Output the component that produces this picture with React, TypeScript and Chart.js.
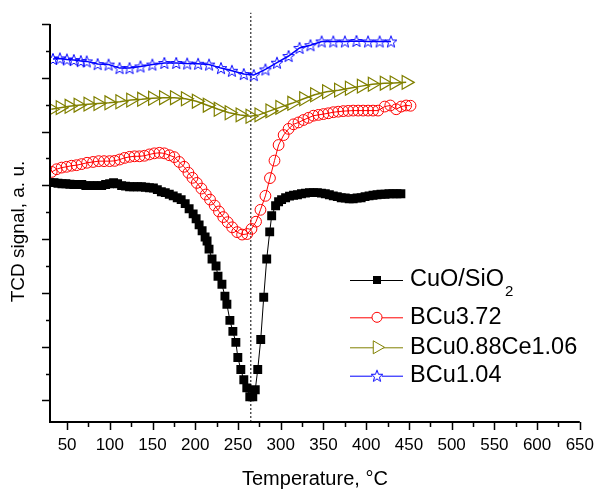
import React, { useEffect, useRef } from 'react';
import { Chart, registerables } from 'chart.js';

Chart.register(...registerables);

const FONT = '"Liberation Sans", Arial, Helvetica, sans-serif';

// ---- Data (temperature in °C, TCD signal in arbitrary units) ----
const seriesLabels = ['CuO/SiO₂', 'BCu3.72', 'BCu0.88Ce1.06', 'BCu1.04'];
const xTitle = 'Temperature, °C';
const yTitle = 'TCD signal, a. u.';

const xTickValues = [50, 75, 100, 125, 150, 175, 200, 225, 250, 275, 300, 325, 350, 375, 400, 425, 450, 475, 500, 525, 550, 575, 600, 625, 650];
const yTickValues = [0, 1, 2, 3, 4, 5, 6, 7, 8, 9, 10, 11, 12, 13, 14];
const peakMarkerT = 265;

const cuoT = [30.0, 34.7, 39.3, 44.0, 48.6, 53.3, 57.9, 62.6, 67.2, 71.9, 76.5, 81.2, 85.8, 90.5, 95.1, 99.8, 104.4, 109.1, 113.8, 118.4, 123.1, 127.7, 132.4, 137.0, 141.7, 146.3, 151.0, 155.6, 160.3, 164.9, 169.6, 174.2, 178.9, 183.5, 188.2, 192.8, 197.5, 201.0, 204.5, 208.0, 211.5, 213.8, 216.1, 219.6, 224.3, 226.6, 231.2, 234.7, 237.0, 240.5, 244.0, 247.5, 249.8, 253.3, 256.8, 260.3, 263.8, 267.3, 270.2, 273.1, 276.6, 280.1, 283.6, 287.1, 289.4, 294.0, 297.5, 301.0, 305.7, 310.3, 315.0, 319.6, 324.3, 328.9, 333.6, 338.2, 342.9, 347.6, 352.2, 356.9, 361.5, 366.2, 370.8, 375.5, 380.1, 384.8, 389.4, 394.1, 398.7, 403.4, 408.0, 412.7, 417.3, 422.0, 426.7, 431.3, 436.0, 440.6];
const cuoV = [8.10, 8.10, 8.08, 8.06, 8.06, 8.04, 8.03, 8.03, 8.03, 7.99, 7.99, 7.99, 7.99, 7.99, 8.03, 8.06, 8.10, 8.06, 7.99, 7.97, 7.95, 7.95, 7.95, 7.95, 7.93, 7.91, 7.90, 7.84, 7.76, 7.73, 7.67, 7.61, 7.54, 7.47, 7.32, 7.13, 6.94, 6.76, 6.53, 6.31, 6.08, 5.93, 5.63, 5.26, 5.00, 4.62, 4.32, 3.88, 3.58, 2.98, 2.57, 2.16, 1.60, 1.15, 0.77, 0.47, 0.14, 0.14, 0.40, 1.15, 2.27, 3.84, 5.26, 6.27, 6.87, 7.24, 7.39, 7.47, 7.54, 7.60, 7.63, 7.65, 7.69, 7.71, 7.73, 7.73, 7.73, 7.71, 7.69, 7.65, 7.61, 7.58, 7.54, 7.53, 7.50, 7.50, 7.53, 7.54, 7.58, 7.61, 7.63, 7.65, 7.67, 7.67, 7.69, 7.69, 7.69, 7.69];

const bcu372T = [32.0, 37.8, 43.6, 49.4, 55.2, 61.1, 66.9, 73.4, 80.4, 87.0, 93.2, 99.8, 105.7, 111.5, 117.2, 123.1, 128.9, 134.7, 140.5, 146.3, 152.1, 158.0, 163.8, 169.6, 175.4, 181.2, 187.0, 192.0, 196.7, 201.8, 207.2, 212.3, 217.3, 222.7, 227.7, 232.7, 237.9, 243.2, 249.0, 254.8, 260.7, 265.8, 271.1, 276.3, 282.1, 287.4, 292.7, 297.5, 303.4, 309.2, 315.0, 320.8, 326.6, 332.4, 338.2, 344.1, 349.9, 355.7, 361.5, 367.3, 373.1, 379.0, 384.8, 390.6, 396.4, 402.2, 408.0, 413.9, 421.7, 428.2, 435.1, 441.0, 446.8, 451.9];
const bcu372V = [8.50, 8.60, 8.66, 8.69, 8.73, 8.75, 8.79, 8.84, 8.87, 8.90, 8.90, 8.90, 8.91, 8.96, 9.02, 9.06, 9.08, 9.08, 9.10, 9.15, 9.19, 9.21, 9.19, 9.12, 9.05, 8.87, 8.69, 8.47, 8.28, 8.09, 7.88, 7.66, 7.47, 7.25, 7.03, 6.82, 6.63, 6.44, 6.26, 6.17, 6.19, 6.38, 6.65, 7.09, 7.61, 8.27, 8.92, 9.50, 9.87, 10.10, 10.27, 10.34, 10.43, 10.51, 10.59, 10.62, 10.65, 10.68, 10.72, 10.74, 10.76, 10.77, 10.78, 10.78, 10.78, 10.78, 10.78, 10.78, 10.93, 10.97, 10.83, 10.93, 10.97, 10.96];

const bcuCeT = [31.5, 42.0, 52.4, 62.9, 74.5, 86.2, 99.0, 111.8, 124.5, 137.3, 150.1, 162.9, 175.7, 188.5, 201.3, 214.1, 226.9, 239.7, 252.5, 264.1, 274.6, 287.4, 299.0, 313.0, 326.9, 339.7, 353.7, 367.7, 380.4, 394.4, 407.2, 421.2, 432.8, 446.8];
const bcuCeV = [10.83, 10.89, 10.94, 10.98, 11.02, 11.04, 11.07, 11.11, 11.17, 11.20, 11.24, 11.26, 11.26, 11.22, 11.13, 10.98, 10.83, 10.70, 10.62, 10.57, 10.62, 10.77, 10.90, 11.05, 11.22, 11.37, 11.48, 11.54, 11.61, 11.69, 11.76, 11.80, 11.81, 11.83];

const bcu104T = [33.5, 41.6, 49.8, 57.9, 66.1, 73.0, 85.8, 98.6, 111.4, 123.1, 135.9, 149.8, 163.8, 177.7, 190.5, 203.3, 216.1, 230.1, 242.9, 256.8, 268.5, 282.1, 295.6, 309.2, 322.0, 334.8, 347.9, 361.5, 375.1, 388.6, 402.2, 415.8, 429.0];
const bcu104V = [12.70, 12.72, 12.68, 12.66, 12.62, 12.61, 12.51, 12.49, 12.36, 12.36, 12.42, 12.49, 12.55, 12.55, 12.53, 12.52, 12.49, 12.36, 12.26, 12.14, 12.10, 12.31, 12.56, 12.81, 13.11, 13.21, 13.35, 13.35, 13.35, 13.37, 13.35, 13.35, 13.35];

const Y_MIN = -0.8;
const Y_MAX = 14;

const COLORS = ['#000000', '#ff0000', '#808000', '#0000ff'];

function makeStar(color: string, R: number, r: number, lw: number): HTMLCanvasElement {
  const size = 14;
  const c = document.createElement('canvas');
  c.width = size;
  c.height = size;
  const g = c.getContext('2d')!;
  g.beginPath();
  for (let i = 0; i < 10; i++) {
    const rad = i % 2 === 0 ? R : r;
    const a = -Math.PI / 2 + (i * Math.PI) / 5;
    const px = size / 2 + rad * Math.cos(a);
    const py = size / 2 + 0.6 + rad * Math.sin(a);
    if (i === 0) g.moveTo(px, py);
    else g.lineTo(px, py);
  }
  g.closePath();
  g.strokeStyle = color;
  g.lineWidth = lw;
  g.stroke();
  return c;
}

function pts(xs: number[], ys: number[]) {
  return xs.map((x, i) => ({ x, y: ys[i] }));
}

export default function App() {
  const ref = useRef<HTMLCanvasElement>(null);

  useEffect(() => {
    document.body.style.margin = '0';
    const star = makeStar(COLORS[3], 6.2, 2.6, 1);

    const axesPlugin = {
      id: 'axesPlugin',
      afterDraw(chart: any) {
        const { ctx, chartArea } = chart;
        const xs = chart.scales.x;
        const ys = chart.scales.y;
        ctx.save();
        ctx.strokeStyle = '#000';
        // axis lines
        ctx.lineWidth = 2;
        ctx.beginPath();
        ctx.moveTo(chartArea.left, chartArea.top);
        ctx.lineTo(chartArea.left, chartArea.bottom);
        ctx.lineTo(chartArea.right, chartArea.bottom);
        ctx.stroke();
        // ticks
        ctx.lineWidth = 1.5;
        ctx.beginPath();
        xs.ticks.forEach((t: any) => {
          const px = Math.round(xs.getPixelForValue(t.value)) + 0.5;
          const len = t.value % 50 === 0 ? 8 : 5;
          ctx.moveTo(px, chartArea.bottom);
          ctx.lineTo(px, chartArea.bottom + len);
        });
        ys.ticks.forEach((t: any) => {
          const py = Math.round(ys.getPixelForValue(t.value)) + 0.5;
          const len = t.value % 2 === 0 ? 8 : 4;
          ctx.moveTo(chartArea.left, py);
          ctx.lineTo(chartArea.left - len, py);
        });
        ctx.stroke();

        // y title
        ctx.fillStyle = '#000';
        ctx.font = `19px ${FONT}`;
        ctx.textAlign = 'center';
        ctx.textBaseline = 'middle';
        ctx.translate(19, 231.5);
        ctx.rotate(-Math.PI / 2);
        ctx.fillText(yTitle, 0, 0);
        ctx.restore();

        // legend
        ctx.save();
        const rows = [280, 317.3, 347.3, 375.7];
        const lx0 = 350, lx1 = 403, mx = 377, tx = 410;
        seriesLabels.forEach((label, i) => {
          const y = rows[i];
          ctx.strokeStyle = COLORS[i];
          ctx.lineWidth = 1;
          ctx.beginPath();
          ctx.moveTo(lx0, y + 0.5);
          ctx.lineTo(lx1, y + 0.5);
          ctx.stroke();
          if (i === 0) {
            ctx.fillStyle = '#000';
            ctx.fillRect(mx - 4, y - 4, 8, 8);
          } else if (i === 1) {
            ctx.fillStyle = '#fff';
            ctx.beginPath();
            ctx.arc(mx, y, 5, 0, Math.PI * 2);
            ctx.fill();
            ctx.stroke();
          } else if (i === 2) {
            const r = 7.5;
            ctx.fillStyle = '#fff';
            ctx.beginPath();
            ctx.moveTo(mx + r, y);
            ctx.lineTo(mx - r / 2, y - r * 0.866);
            ctx.lineTo(mx - r / 2, y + r * 0.866);
            ctx.closePath();
            ctx.fill();
            ctx.stroke();
          } else {
            ctx.fillStyle = '#fff';
            ctx.fillRect(mx - 5, y - 5, 10, 10);
            ctx.drawImage(star, mx - 7, y - 7);
          }
          ctx.fillStyle = '#000';
          ctx.textAlign = 'left';
          ctx.textBaseline = 'middle';
          ctx.font = `23.5px ${FONT}`;
          if (label.includes('₂')) {
            const main = label.replace('₂', '');
            ctx.fillText(main, tx, y);
            const w = ctx.measureText(main).width;
            ctx.font = `15px ${FONT}`;
            ctx.fillText('2', tx + w + 1, y + 12);
          } else {
            ctx.fillText(label, tx, y);
          }
        });
        ctx.restore();
      },
    };

    const chart = new Chart(ref.current!, {
      type: 'line',
      data: {
        datasets: [
          {
            label: seriesLabels[0],
            data: pts(cuoT, cuoV),
            borderColor: COLORS[0],
            backgroundColor: COLORS[0],
            borderWidth: 1,
            pointStyle: 'rect',
            pointRadius: 6.3,
            pointBorderWidth: 0,
            pointBackgroundColor: COLORS[0],
          },
          {
            label: seriesLabels[1],
            data: pts(bcu372T, bcu372V),
            borderColor: COLORS[1],
            backgroundColor: 'rgba(0,0,0,0)',
            borderWidth: 1,
            pointStyle: 'circle',
            pointRadius: 5.4,
            pointBorderWidth: 1,
            pointBackgroundColor: 'rgba(0,0,0,0)',
          },
          {
            label: seriesLabels[2],
            data: pts(bcuCeT, bcuCeV),
            borderColor: COLORS[2],
            backgroundColor: 'rgba(0,0,0,0)',
            borderWidth: 1.5,
            pointStyle: 'triangle',
            rotation: 90,
            pointRadius: 8,
            pointBorderWidth: 1.2,
            pointBackgroundColor: 'rgba(0,0,0,0)',
          },
          {
            label: seriesLabels[3],
            data: pts(bcu104T, bcu104V),
            borderColor: COLORS[3],
            backgroundColor: 'rgba(0,0,0,0)',
            borderWidth: 1.5,
            pointStyle: star as any,
            pointRadius: 6,
          },
          {
            label: 'peak',
            data: [
              { x: peakMarkerT, y: Y_MIN },
              { x: peakMarkerT, y: 14.42 },
            ],
            borderColor: '#000',
            borderWidth: 1,
            borderDash: [2, 2],
            pointRadius: 0,
            clip: false as any,
          },
        ],
      },
      options: {
        responsive: false,
        animation: false,
        events: [],
        layout: { padding: { top: 24, right: 16, left: 0, bottom: 0 } },
        plugins: {
          legend: { display: false },
          tooltip: { enabled: false },
        },
        scales: {
          x: {
            type: 'linear',
            min: 30,
            max: 650,
            afterBuildTicks: (s: any) => {
              s.ticks = xTickValues.map((v) => ({ value: v }));
            },
            afterFit: (s: any) => {
              s.height = 68;
            },
            ticks: {
              autoSkip: false,
              maxRotation: 0,
              font: { family: FONT, size: 17 },
              color: '#000',
              padding: 5,
              callback: (v: any) => (Number(v) % 50 === 0 ? String(v) : ''),
            },
            grid: {
              display: true,
              drawOnChartArea: false,
              drawTicks: true,
              tickLength: 8,
              color: 'rgba(0,0,0,0)',
            },
            border: { display: false },
            title: {
              display: true,
              text: xTitle,
              font: { family: FONT, size: 20 },
              color: '#000',
              padding: { top: 0, bottom: -1 },
            },
          },
          y: {
            type: 'linear',
            min: Y_MIN,
            max: Y_MAX,
            afterBuildTicks: (s: any) => {
              s.ticks = yTickValues.map((v) => ({ value: v }));
            },
            afterFit: (s: any) => {
              s.width = 50;
            },
            ticks: { display: false },
            grid: { display: false },
            border: { display: false },
          },
        },
      } as any,
      plugins: [axesPlugin],
    });
    return () => chart.destroy();
  }, []);

  return (
    <div style={{ width: 599, height: 490 }}>
      <canvas ref={ref} width={599} height={490} style={{ display: 'block' }} />
    </div>
  );
}
